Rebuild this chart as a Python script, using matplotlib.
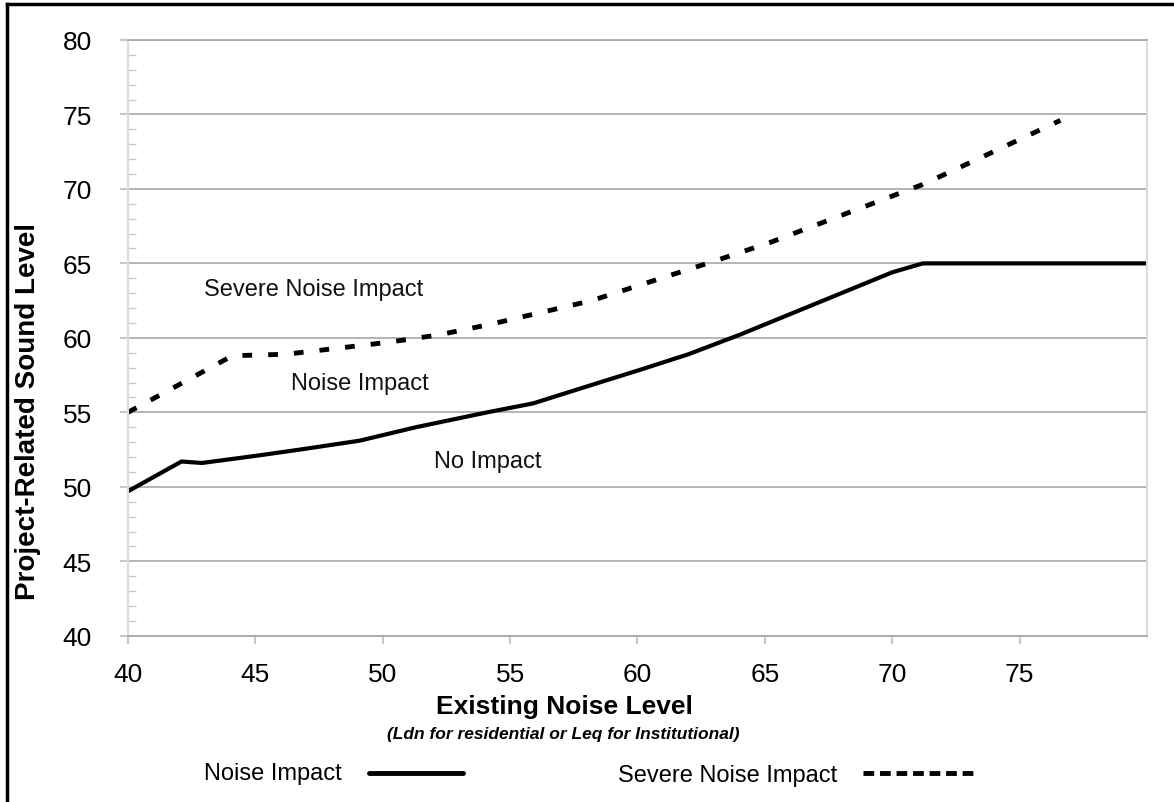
import numpy as np
import matplotlib
matplotlib.use("Agg")
import matplotlib.pyplot as plt
from matplotlib.lines import Line2D
from matplotlib.ticker import MultipleLocator

plt.rcParams['font.family'] = ['Liberation Sans', 'DejaVu Sans']

# values
impact_x = [40, 42.1, 42.9, 45.1, 46.75, 49.1, 51.3, 54.1, 55.9, 58.5, 60, 62, 64, 66, 68, 70, 71.2, 80]
impact_y = [49.7, 51.7, 51.6, 52.1, 52.5, 53.1, 54.0, 55.0, 55.6, 57.0, 57.8, 58.9, 60.2, 61.6, 63.0, 64.4, 65.0, 65.0]

severe_x = [40, 44.1, 46.2, 48.2, 50.2, 52.2, 54.2, 56.2, 58.2, 60.2, 63.1, 65.2, 67.2, 69.2, 71.2, 73.1, 75.1, 76.6]
severe_y = [55.0, 58.8, 58.9, 59.3, 59.7, 60.2, 60.9, 61.7, 62.5, 63.6, 65.2, 66.4, 67.7, 69.0, 70.3, 71.8, 73.4, 74.6]

x_ticks = [40, 45, 50, 55, 60, 65, 70, 75]
y_ticks = [40, 45, 50, 55, 60, 65, 70, 75, 80]

region_labels = ["Severe Noise Impact", "Noise Impact", "No Impact"]
region_pos = [(43.0, 63.3), (46.4, 57.0), (52.0, 51.7)]

fig = plt.figure(figsize=(11.74, 8.03), dpi=100)
ax = fig.add_axes([0.109, 0.207, 0.868, 0.742])

ax.plot(impact_x, impact_y, color='black', lw=3, solid_capstyle='butt')
ax.plot(severe_x, severe_y, color='black', lw=3.5, dashes=(2, 3.3), dash_capstyle='butt')

ax.set_xlim(40, 80)
ax.set_ylim(40, 80)
ax.set_xticks(x_ticks)
ax.set_yticks(y_ticks)
ax.yaxis.set_minor_locator(MultipleLocator(1))
ax.grid(axis='y', color='#a8a8a8', lw=1.2)
ax.set_axisbelow(True)
ax.tick_params(axis='both', which='major', labelsize=19, color='#c8c8c8',
               length=6, width=1.5)
ax.tick_params(axis='y', which='major', pad=20)
ax.tick_params(axis='x', which='major', pad=13)
ax.tick_params(axis='y', which='minor', direction='in', length=6, color='#c8c8c8', width=1)
for s in ['left', 'right']:
    ax.spines[s].set_color('#dcdcdc')
    ax.spines[s].set_linewidth(1.5)
for s in ['top', 'bottom']:
    ax.spines[s].set_color('#a8a8a8')
    ax.spines[s].set_linewidth(1.3)

for txt, (px, py) in zip(region_labels, region_pos):
    ax.text(px, py, txt, fontsize=17, ha='left', va='center', color='#111111')

fig.text(0.024, 0.488, "Project-Related Sound Level", rotation=90, fontsize=20,
         fontweight='bold', ha='center', va='center')
fig.text(0.481, 0.120, "Existing Noise Level", fontsize=19, fontweight='bold',
         ha='center', va='center')
fig.text(0.480, 0.085, "(Ldn for residential or Leq for Institutional)", fontsize=12.5,
         fontweight='bold', style='italic', ha='center', va='center')

# legend row drawn by hand like the original figure
fig.text(0.174, 0.036, "Noise Impact", fontsize=17, ha='left', va='center')
fig.add_artist(Line2D([0.314, 0.394], [0.036, 0.036], color='black', lw=3.5,
                      solid_capstyle='round'))
fig.text(0.526, 0.034, "Severe Noise Impact", fontsize=17, ha='left', va='center')
fig.add_artist(Line2D([0.735, 0.832], [0.036, 0.036], color='black', lw=3.5,
                      dashes=(2.2, 1.2)))

# outer frame (left and top edges visible)
fig.add_artist(Line2D([0.006, 0.006], [0.0, 0.994], color='black', lw=2.5))
fig.add_artist(Line2D([0.006, 1.0], [0.994, 0.994], color='black', lw=2.5))

fig.savefig("out.png", dpi=100)
